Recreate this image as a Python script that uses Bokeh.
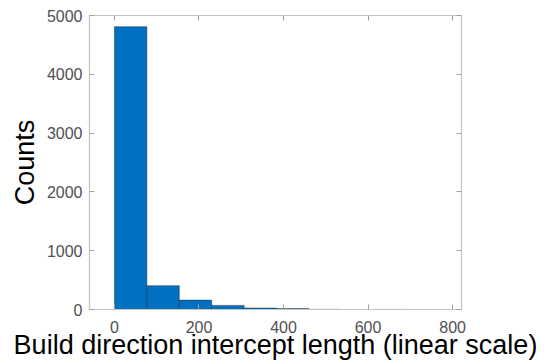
from bokeh.plotting import figure
from bokeh.models import LinearAxis, FixedTicker, Range1d, ColumnDataSource
from bokeh.embed import file_html
from bokeh.resources import INLINE

# Histogram data
bin_left = [0.0, 76.7, 153.4, 230.1, 306.8, 383.5, 460.2, 536.9, 613.6]
bin_right = [76.7, 153.4, 230.1, 306.8, 383.5, 460.2, 536.9, 613.6, 690.3]
counts = [4810, 405, 160, 70, 25, 15, 3, 0, 2]

x_ticks = [0, 200, 400, 600, 800]
y_ticks = [0, 1000, 2000, 3000, 4000, 5000]

src = ColumnDataSource(dict(left=bin_left, right=bin_right, top=counts,
                            bottom=[0] * len(counts)))

p = figure(width=556, height=364, output_backend="svg", toolbar_location=None,
           x_range=Range1d(-59, 821), y_range=Range1d(0, 5000),
           min_border_left=89, min_border_right=95, min_border_top=15,
           min_border_bottom=55)

p.quad(left="left", right="right", top="top", bottom="bottom", source=src,
       fill_color="#0070C0", line_color="#1a1a1a", line_alpha=0.6, line_width=0.7)

p.grid.visible = False
p.outline_line_color = "#c4c4c4"
p.outline_line_width = 1.2
p.background_fill_color = "white"
p.border_fill_color = "white"

font = "Liberation Sans"
for ax in (p.xaxis[0], p.yaxis[0]):
    ax.major_tick_in = 5
    ax.major_tick_out = 0
    ax.minor_tick_line_color = None
    ax.axis_line_color = "#c4c4c4"
    ax.major_tick_line_color = "#a0a0a0"
    ax.major_label_text_font = font
    ax.major_label_text_font_size = "16px"
    ax.major_label_text_color = "#505050"
    ax.axis_label_text_font = font
    ax.axis_label_text_font_size = "27px"
    ax.axis_label_text_font_style = "normal"
    ax.axis_label_text_color = "black"

p.xaxis[0].ticker = FixedTicker(ticks=x_ticks)
p.yaxis[0].ticker = FixedTicker(ticks=y_ticks)
p.xaxis[0].axis_label = "Build direction intercept length (linear scale)"
p.yaxis[0].axis_label = "Counts"
p.xaxis[0].major_label_standoff = 11
p.xaxis[0].axis_label_standoff = -6
p.yaxis[0].major_label_standoff = 7
p.yaxis[0].axis_label_standoff = 4

for loc, ticks in (("above", x_ticks), ("right", y_ticks)):
    a = LinearAxis(ticker=FixedTicker(ticks=ticks))
    a.major_tick_in = 5
    a.major_tick_out = 0
    a.minor_tick_line_color = None
    a.axis_line_color = "#c4c4c4"
    a.major_tick_line_color = "#a0a0a0"
    a.major_label_text_font_size = "0px"
    a.major_label_text_alpha = 0
    a.major_label_standoff = 0
    p.add_layout(a, loc)

open("out.html", "w").write(file_html(p, INLINE))
